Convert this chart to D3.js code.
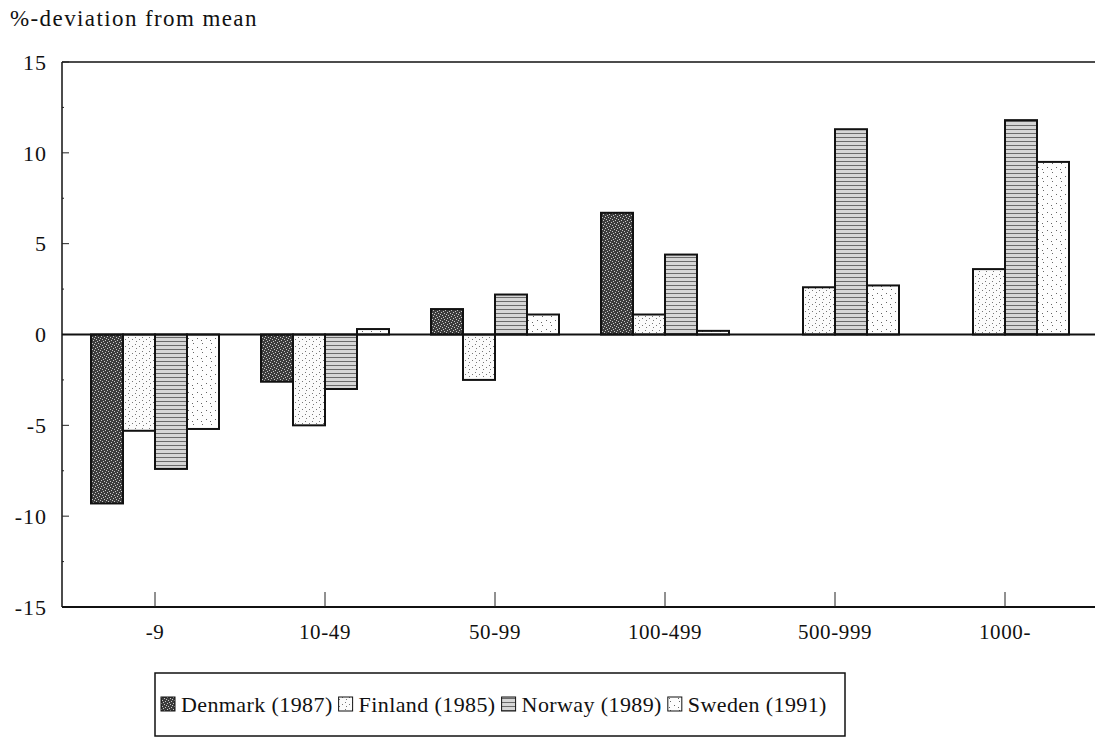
<!DOCTYPE html>
<html>
<head>
<meta charset="utf-8">
<script src="https://cdn.jsdelivr.net/npm/d3@7"></script>
<style>
  body { margin: 0; background: #fff; }
  svg text { font-family: "Liberation Serif", "DejaVu Serif", serif; fill: #111; }
</style>
</head>
<body>
<div id="chart"></div>
<script>
// categories (firm size classes) and series
var categories = ["-9", "10-49", "50-99", "100-499", "500-999", "1000-"];
var seriesNames = ["Denmark (1987)", "Finland (1985)", "Norway (1989)", "Sweden (1991)"];

// %-deviation from mean
var denmark = [-9.3, -2.6, 1.4, 6.7, null, null];
var finland = [-5.3, -5.0, -2.5, 1.1, 2.6, 3.6];
var norway  = [-7.4, -3.0, 2.2, 4.4, 11.3, 11.8];
var sweden  = [-5.2, 0.3, 1.1, 0.2, 2.7, 9.5];

var yTicks = [15, 10, 5, 0, -5, -10, -15];
var yMinor = [12.5, 7.5, 2.5, -2.5, -7.5, -12.5];

var W = 1095, H = 738;
var plotLeft = 62, plotTop = 62, plotRight = 1095, plotBottom = 607;

var svg = d3.select("#chart").append("svg")
    .attr("width", W)
    .attr("height", H);

// fill patterns imitating the print shading
var defs = svg.append("defs");

var pDen = defs.append("pattern").attr("id", "pDen")
    .attr("patternUnits", "userSpaceOnUse").attr("width", 6).attr("height", 6);
pDen.append("rect").attr("width", 6).attr("height", 6).attr("fill", "#3c3c3c");
[[0,0],[3,1],[1,3],[4,4],[2,5],[5,2]].forEach(function(p) {
  pDen.append("rect").attr("x", p[0]).attr("y", p[1]).attr("width", 1).attr("height", 1).attr("fill", "#c8c8c8");
});

var pFin = defs.append("pattern").attr("id", "pFin")
    .attr("patternUnits", "userSpaceOnUse").attr("width", 7).attr("height", 7);
pFin.append("rect").attr("width", 7).attr("height", 7).attr("fill", "#fbfbfb");
[[1,1],[5,3],[2,5]].forEach(function(p) {
  pFin.append("rect").attr("x", p[0]).attr("y", p[1]).attr("width", 1).attr("height", 1).attr("fill", "#777");
});

var pNor = defs.append("pattern").attr("id", "pNor")
    .attr("patternUnits", "userSpaceOnUse").attr("width", 4).attr("height", 4);
pNor.append("rect").attr("width", 4).attr("height", 4).attr("fill", "#d6d6d6");
pNor.append("rect").attr("y", 1).attr("width", 4).attr("height", 1).attr("fill", "#6a6a6a");

var pSwe = defs.append("pattern").attr("id", "pSwe")
    .attr("patternUnits", "userSpaceOnUse").attr("width", 9).attr("height", 9);
pSwe.append("rect").attr("width", 9).attr("height", 9).attr("fill", "#fdfdfd");
[[2,1],[6,5],[1,7]].forEach(function(p) {
  pSwe.append("rect").attr("x", p[0]).attr("y", p[1]).attr("width", 1).attr("height", 1).attr("fill", "#666");
});

var fills = ["url(#pDen)", "url(#pFin)", "url(#pNor)", "url(#pSwe)"];
var seriesValues = [denmark, finland, norway, sweden];

// scales
var x = d3.scaleBand().domain(categories).range([70, 1090]).padding(0);
var xInner = d3.scaleBand().domain(seriesNames).range([-64, 64]).padding(0);
var y = d3.scaleLinear().domain([-15, 15]).range([plotBottom, plotTop]);

// title
svg.append("text")
    .attr("x", 10).attr("y", 26)
    .style("font-size", "23px")
    .style("letter-spacing", "1.4px")
    .text("%-deviation from mean");

// frame: left axis, top line
svg.append("line").attr("x1", plotLeft).attr("x2", plotLeft).attr("y1", plotTop).attr("y2", plotBottom)
    .attr("stroke", "#111").attr("stroke-width", 1.5);
svg.append("line").attr("x1", plotLeft).attr("x2", plotRight).attr("y1", plotTop).attr("y2", plotTop)
    .attr("stroke", "#111").attr("stroke-width", 1.5);

// y tick labels
svg.selectAll("text.ylab").data(yTicks).enter().append("text")
    .attr("class", "ylab")
    .attr("x", 47)
    .attr("y", function(d) { return y(d); })
    .attr("dy", "0.35em")
    .attr("text-anchor", "end")
    .style("font-size", "22px")
    .style("letter-spacing", "1px")
    .text(function(d) { return d; });

// small inside ticks on y axis
svg.selectAll("line.ytick").data(yTicks.concat(yMinor)).enter().append("line")
    .attr("class", "ytick")
    .attr("x1", plotLeft).attr("x2", function(d) { return plotLeft + (d % 5 === 0 ? 7 : 2); })
    .attr("y1", function(d) { return y(d); }).attr("y2", function(d) { return y(d); })
    .attr("stroke", "#222").attr("stroke-width", 1);

// bars
var groups = svg.selectAll("g.grp").data(categories).enter().append("g")
    .attr("class", "grp")
    .attr("transform", function(d) { return "translate(" + (x(d) + x.bandwidth() / 2) + ",0)"; });

groups.each(function(cat, ci) {
  var g = d3.select(this);
  seriesNames.forEach(function(s, si) {
    var v = seriesValues[si][ci];
    if (v === null) return;
    g.append("rect")
      .attr("x", xInner(s))
      .attr("width", xInner.bandwidth())
      .attr("y", y(Math.max(0, v)))
      .attr("height", Math.abs(y(v) - y(0)))
      .attr("fill", fills[si])
      .attr("stroke", "#111")
      .attr("stroke-width", 2);
  });
});

// zero line
svg.append("line").attr("x1", plotLeft).attr("x2", plotRight).attr("y1", y(0)).attr("y2", y(0))
    .attr("stroke", "#111").attr("stroke-width", 2);

// x axis
svg.append("line").attr("x1", plotLeft).attr("x2", plotRight).attr("y1", plotBottom).attr("y2", plotBottom)
    .attr("stroke", "#111").attr("stroke-width", 2);

svg.selectAll("line.xtick").data(categories).enter().append("line")
    .attr("class", "xtick")
    .attr("x1", function(d) { return x(d) + x.bandwidth() / 2; })
    .attr("x2", function(d) { return x(d) + x.bandwidth() / 2; })
    .attr("y1", plotBottom).attr("y2", plotBottom - 15)
    .attr("stroke", "#222").attr("stroke-width", 1);

svg.selectAll("text.xlab").data(categories).enter().append("text")
    .attr("class", "xlab")
    .attr("x", function(d) { return x(d) + x.bandwidth() / 2; })
    .attr("y", 639)
    .attr("text-anchor", "middle")
    .style("font-size", "21px")
    .style("letter-spacing", "0.6px")
    .text(function(d) { return d; });

// legend
var legend = svg.append("g").attr("transform", "translate(155,673)");
legend.append("rect")
    .attr("x", 0).attr("y", 0).attr("width", 690).attr("height", 63)
    .attr("fill", "none").attr("stroke", "#111").attr("stroke-width", 1.5);

var lx = 6;
seriesNames.forEach(function(s, i) {
  legend.append("rect")
    .attr("x", lx).attr("y", 24).attr("width", 14).attr("height", 14)
    .attr("fill", fills[i]).attr("stroke", "#111").attr("stroke-width", 1);
  var t = legend.append("text")
    .attr("x", lx + 20).attr("y", 39)
    .style("font-size", "22px")
    .style("letter-spacing", "0.4px")
    .text(s);
  lx += 20 + t.node().getComputedTextLength() + 6;
});
</script>
</body>
</html>
